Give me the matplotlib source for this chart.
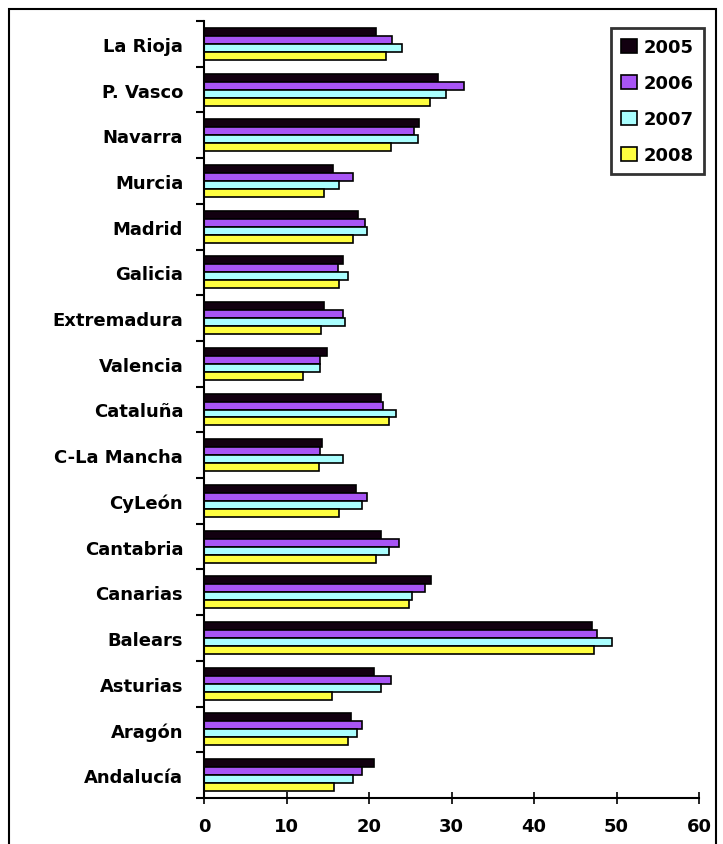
import matplotlib
matplotlib.use('Agg')
import matplotlib.pyplot as plt
from matplotlib.patches import Rectangle
import numpy as np

# regions, bottom to top as drawn on the chart
regions = ['Andalucía', 'Aragón', 'Asturias', 'Balears', 'Canarias', 'Cantabria',
           'CyLeón', 'C-La Mancha', 'Cataluña', 'Valencia', 'Extremadura',
           'Galicia', 'Madrid', 'Murcia', 'Navarra', 'P. Vasco', 'La Rioja']

years = ['2005', '2006', '2007', '2008']

v2005 = [20.6, 17.8, 20.6, 47.0, 27.5, 21.5, 18.4, 14.3, 21.5, 14.9, 14.6,
         16.8, 18.7, 15.6, 26.0, 28.4, 20.9]
v2006 = [19.2, 19.2, 22.7, 47.6, 26.8, 23.6, 19.8, 14.1, 21.7, 14.1, 16.8,
         16.3, 19.5, 18.0, 25.5, 31.5, 22.8]
v2007 = [18.0, 18.6, 21.5, 49.5, 25.2, 22.4, 19.2, 16.8, 23.3, 14.1, 17.1,
         17.4, 19.8, 16.4, 25.9, 29.3, 24.0]
v2008 = [15.8, 17.4, 15.5, 47.3, 24.9, 20.8, 16.4, 13.9, 22.4, 12.0, 14.2,
         16.4, 18.0, 14.6, 22.7, 27.4, 22.1]

xticks = [0, 10, 20, 30, 40, 50, 60]

colors = ['#120010', '#a855f5', '#aaffff', '#ffff40']

fig = plt.figure(figsize=(7.23, 8.45), dpi=100)
ax = fig.add_axes([204/723, 1-799/845, (699-204)/723, (799-22)/845])

font = 'DejaVu Sans'
y = np.arange(len(regions))
h = 0.175
series = [v2005, v2006, v2007, v2008]
for i, vals in enumerate(series):
    # 2005 on top of each group, 2008 at the bottom
    ax.barh(y + (1.5 - i)*h, vals, height=h, color=colors[i],
            edgecolor='black', linewidth=1.2, label=years[i])

ax.set_xlim(0, 60)
ax.set_ylim(-0.5, len(regions) - 0.5)
ax.set_xticks(xticks)
ax.set_xticklabels([str(t) for t in xticks], fontsize=13, fontweight='bold', family=font)
ax.set_yticks(y)
ax.set_yticklabels(regions, fontsize=13, fontweight='bold', family=font)
ax.set_yticks(np.arange(len(regions) + 1) - 0.5, minor=True)

ax.tick_params(axis='y', which='major', length=0, pad=15)
ax.tick_params(axis='y', which='minor', length=6, width=1.5, direction='out')
ax.tick_params(axis='x', length=8, width=1.2, direction='inout', pad=10)

for s in ['top', 'right']:
    ax.spines[s].set_visible(False)
ax.spines['left'].set_linewidth(1.5)
ax.spines['bottom'].set_linewidth(1.5)

leg = fig.legend(loc='upper left', bbox_to_anchor=(611/723, 1-29/845),
                 prop={'family': font, 'weight': 'bold', 'size': 13},
                 frameon=True, fancybox=False, handlelength=0.9, handleheight=0.8,
                 handletextpad=0.35, labelspacing=1.0, borderpad=0.55,
                 borderaxespad=0)
leg.get_frame().set_edgecolor('black')
leg.get_frame().set_linewidth(2)

# outer border of the picture
fig.add_artist(Rectangle((9/723, -0.05), (716-9)/723, 1.05 - 10/845,
                         transform=fig.transFigure, fill=False,
                         edgecolor='black', linewidth=1.5))

fig.savefig('out.png', dpi=100)
